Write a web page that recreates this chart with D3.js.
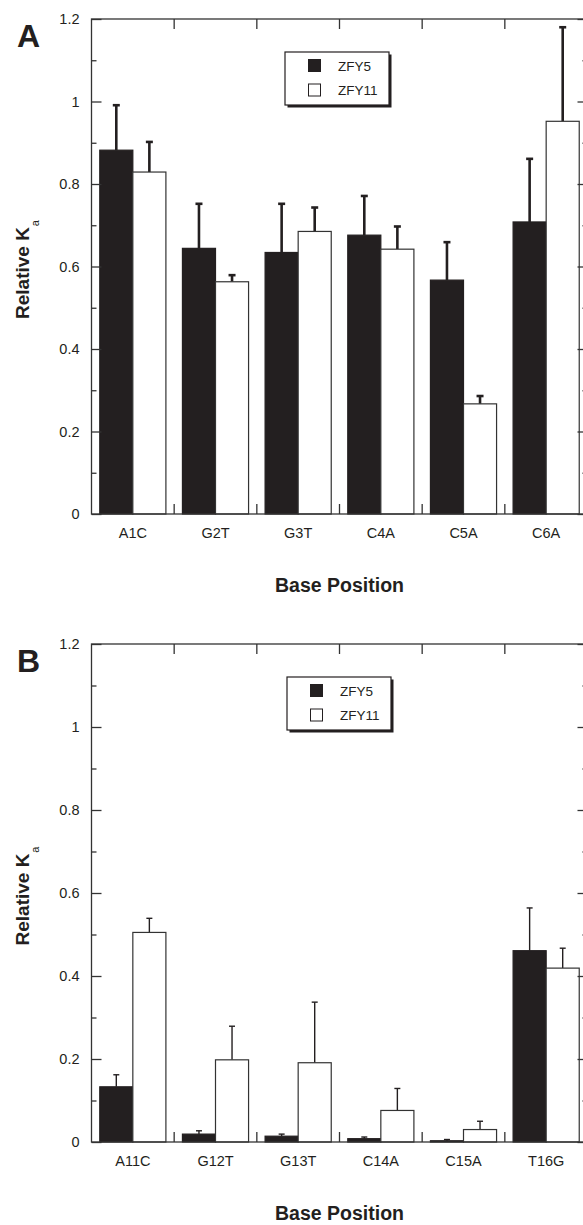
<!DOCTYPE html>
<html>
<head>
<meta charset="utf-8">
<script src="https://cdn.jsdelivr.net/npm/d3@7"></script>
<style>
  body { margin: 0; background: #fff; }
  svg { display: block; font-family: "Liberation Sans", Arial, Helvetica, sans-serif; }
</style>
</head>
<body>
<svg id="chart" width="583" height="1225"></svg>
<script>
// values
const seriesNames = ["ZFY5", "ZFY11"];

const catsA = ["A1C", "G2T", "G3T", "C4A", "C5A", "C6A"];
const zfy5A = [0.882, 0.644, 0.634, 0.676, 0.567, 0.708];
const zfy5ErrA = [0.109, 0.108, 0.118, 0.095, 0.092, 0.153];
const zfy11A = [0.829, 0.563, 0.685, 0.642, 0.267, 0.952];
const zfy11ErrA = [0.073, 0.016, 0.058, 0.055, 0.019, 0.228];

const catsB = ["A11C", "G12T", "G13T", "C14A", "C15A", "T16G"];
const zfy5B = [0.133, 0.019, 0.014, 0.008, 0.003, 0.461];
const zfy5ErrB = [0.029, 0.008, 0.005, 0.004, 0.003, 0.103];
const zfy11B = [0.505, 0.198, 0.191, 0.076, 0.030, 0.419];
const zfy11ErrB = [0.034, 0.081, 0.146, 0.053, 0.020, 0.048];

const majorTicks = [0, 0.2, 0.4, 0.6, 0.8, 1, 1.2];
const minorTicks = [0.1, 0.3, 0.5, 0.7, 0.9, 1.1];

const svg = d3.select("#chart");
const left = 91.5, right = 587.5;
const ink = "#231f20", axisCol = "#333";

const drawPanel = (cfg) => {
  const g = svg.append("g").attr("class", "panel");
  const x = d3.scaleBand().domain(cfg.cats).range([left, right]);
  const xs = d3.scaleBand().domain(seriesNames).range([0, x.bandwidth()]).paddingOuter(0.25);
  const y = d3.scaleLinear().domain([0, 1.2]).range([cfg.bottom, cfg.top]);

  const rows = cfg.cats.map((c, i) => ({
    cat: c,
    vals: [
      { s: "ZFY5", v: cfg.s5[i], e: cfg.e5[i] },
      { s: "ZFY11", v: cfg.s11[i], e: cfg.e11[i] }
    ]
  }));

  // error bars first so bars cover nothing important
  const grp = g.selectAll(".grp").data(rows).enter().append("g")
    .attr("class", "grp")
    .attr("transform", d => `translate(${x(d.cat)},0)`);

  grp.selectAll(".err").data(d => d.vals).enter().append("line")
    .attr("class", "err")
    .attr("x1", d => xs(d.s) + xs.bandwidth() / 2)
    .attr("x2", d => xs(d.s) + xs.bandwidth() / 2)
    .attr("y1", d => y(d.v))
    .attr("y2", d => y(d.v + d.e))
    .attr("stroke", ink)
    .attr("stroke-width", cfg.errW);

  grp.selectAll(".cap").data(d => d.vals).enter().append("line")
    .attr("class", "cap")
    .attr("x1", d => xs(d.s) + xs.bandwidth() / 2 - cfg.capW / 2)
    .attr("x2", d => xs(d.s) + xs.bandwidth() / 2 + cfg.capW / 2)
    .attr("y1", d => y(d.v + d.e))
    .attr("y2", d => y(d.v + d.e))
    .attr("stroke", ink)
    .attr("stroke-width", cfg.errW);

  grp.selectAll(".bar").data(d => d.vals).enter().append("rect")
    .attr("class", "bar")
    .attr("x", d => xs(d.s))
    .attr("width", xs.bandwidth())
    .attr("y", d => y(d.v))
    .attr("height", d => y(0) - y(d.v))
    .attr("fill", d => d.s == "ZFY5" ? ink : "#fff")
    .attr("stroke", d => d.s == "ZFY5" ? ink : axisCol)
    .attr("stroke-width", 1.2);

  // frame
  g.append("rect")
    .attr("x", left).attr("y", cfg.top)
    .attr("width", right - left).attr("height", cfg.bottom - cfg.top)
    .attr("fill", "none").attr("stroke", axisCol).attr("stroke-width", 1.3);

  // left axis, ticks pointing inward
  const yAxis = g.append("g")
    .attr("transform", `translate(${left},0)`)
    .call(d3.axisLeft(y).tickValues(majorTicks).tickSize(-10).tickPadding(12)
      .tickFormat(d => String(+d.toFixed(1))));
  yAxis.select(".domain").remove();
  yAxis.selectAll("line").attr("stroke", axisCol).attr("stroke-width", 1.3);
  yAxis.selectAll("text").attr("font-size", 14.5).attr("fill", ink)
    .attr("font-family", "Liberation Sans, Arial, sans-serif");

  const yMinor = g.append("g")
    .attr("transform", `translate(${left},0)`)
    .call(d3.axisLeft(y).tickValues(minorTicks).tickSize(-5).tickFormat(""));
  yMinor.select(".domain").remove();
  yMinor.selectAll("line").attr("stroke", axisCol).attr("stroke-width", 1.3);

  // right axis
  [majorTicks, minorTicks].forEach((tv, k) => {
    const ra = g.append("g")
      .attr("transform", `translate(${right},0)`)
      .call(d3.axisRight(y).tickValues(tv).tickSize(k == 0 ? -10 : -5).tickFormat(""));
    ra.select(".domain").remove();
    ra.selectAll("line").attr("stroke", axisCol).attr("stroke-width", 1.3);
  });

  // group boundary ticks top and bottom
  const inner = cfg.cats.slice(1);
  g.selectAll(".btick").data(inner).enter().append("line")
    .attr("x1", d => x(d)).attr("x2", d => x(d))
    .attr("y1", cfg.bottom).attr("y2", cfg.bottom - 10)
    .attr("stroke", axisCol).attr("stroke-width", 1.3);
  g.selectAll(".ttick").data(inner).enter().append("line")
    .attr("x1", d => x(d)).attr("x2", d => x(d))
    .attr("y1", cfg.top).attr("y2", cfg.top + 10)
    .attr("stroke", axisCol).attr("stroke-width", 1.3);

  // category labels
  const xAxis = g.append("g")
    .attr("transform", `translate(0,${cfg.bottom})`)
    .call(d3.axisBottom(x).tickSize(0).tickPadding(14));
  xAxis.select(".domain").remove();
  xAxis.selectAll("text").attr("font-size", 14.5).attr("fill", ink)
    .attr("font-family", "Liberation Sans, Arial, sans-serif");

  // axis titles
  g.append("text")
    .attr("x", (left + right) / 2).attr("y", cfg.bottom + 78)
    .attr("text-anchor", "middle")
    .attr("font-size", 19.5).attr("font-weight", "bold").attr("fill", ink)
    .text("Base Position");

  const yt = g.append("text")
    .attr("transform", `translate(28.5,${(cfg.top + cfg.bottom) / 2 + 3}) rotate(-90)`)
    .attr("text-anchor", "middle").attr("fill", ink);
  yt.append("tspan").attr("font-size", 19).attr("font-weight", "bold").text("Relative K");
  yt.append("tspan").attr("font-size", 11).attr("dx", 1).attr("dy", 10).text("a");

  // panel letter
  g.append("text")
    .attr("x", 17).attr("y", cfg.top + 28)
    .attr("font-size", 32).attr("font-weight", "bold").attr("fill", ink)
    .text(cfg.letter);

  // legend with drop shadow
  const lg = g.append("g").attr("transform", `translate(${cfg.legX},${cfg.legY})`);
  lg.append("rect").attr("x", 2.5).attr("y", 2.5).attr("width", 104).attr("height", 53).attr("fill", ink);
  lg.append("rect").attr("width", 104).attr("height", 53)
    .attr("fill", "#fff").attr("stroke", ink).attr("stroke-width", 1.2);
  const item = lg.selectAll(".item").data(seriesNames).enter().append("g")
    .attr("transform", (d, i) => `translate(0,${13.5 + i * 24.5})`);
  item.append("rect")
    .attr("x", 23.5).attr("y", -6).attr("width", 12).attr("height", 12)
    .attr("fill", d => d == "ZFY5" ? ink : "#fff")
    .attr("stroke", ink).attr("stroke-width", 1);
  item.append("text")
    .attr("x", 53).attr("y", 5)
    .attr("font-size", 13.5).attr("fill", ink)
    .text(d => d);
};

drawPanel({ letter: "A", cats: catsA, s5: zfy5A, e5: zfy5ErrA, s11: zfy11A, e11: zfy11ErrA,
  top: 19, bottom: 514, errW: 2.6, capW: 7, legX: 285, legY: 52 });
drawPanel({ letter: "B", cats: catsB, s5: zfy5B, e5: zfy5ErrB, s11: zfy11B, e11: zfy11ErrB,
  top: 644, bottom: 1142, errW: 1.4, capW: 6, legX: 287, legY: 677 });
</script>
</body>
</html>
